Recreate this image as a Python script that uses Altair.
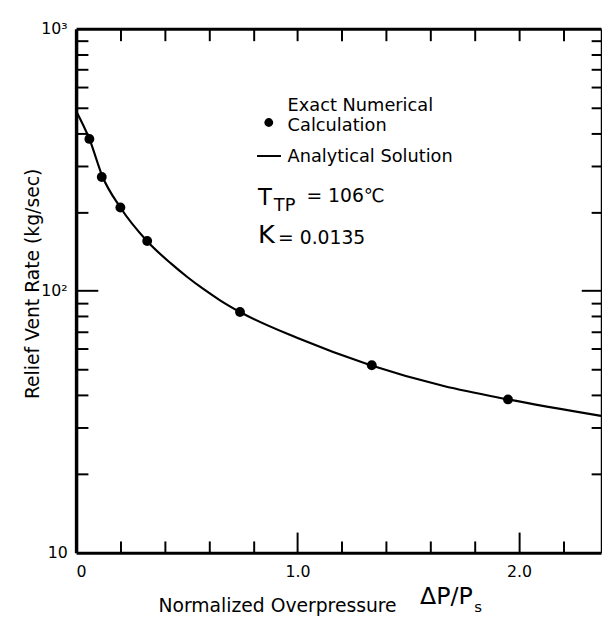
import altair as alt
import pandas as pd

# ---- data ----
curve_x = [0.0, 0.06, 0.12, 0.2, 0.32, 0.428, 0.502, 0.576, 0.65, 0.74, 1.0, 1.33, 1.66, 1.95, 2.37]
curve_y = [486, 380, 272, 208, 155, 127.2, 112.9, 101.4, 92.0, 83, 66, 52, 43.3, 38.5, 33.3]

exact_x = [0.06, 0.116, 0.2, 0.321, 0.74, 1.335, 1.95]
exact_y = [380, 272, 208, 155, 83, 52, 38.5]

x_label_vals = [0, 1, 2]
x_minor_vals = [0.2, 0.4, 0.6, 0.8, 1.2, 1.4, 1.6, 1.8, 2.2]
x_major_vals = [1, 2]
x_top_vals = [0.2, 0.4, 0.6, 0.8, 1.0, 1.2, 1.4, 1.6, 1.8, 2.0, 2.2]
y_label_vals = [10, 100, 1000]
y_minor_vals = [20, 30, 40, 50, 60, 70, 80, 90, 200, 300, 400, 500, 600, 700, 800, 900]
y_major_vals = [100]

curve = pd.DataFrame({"x": curve_x, "y": curve_y})
exact = pd.DataFrame({"x": exact_x, "y": exact_y})
one = pd.DataFrame({"k": [0]})

TXT = "DejaVu Sans"

xs = alt.Scale(domain=[0, 2.37], nice=False, zero=False)
ys = alt.Scale(type="log", domain=[10, 1000], nice=False)


def X(axis):
    return alt.X("x:Q", scale=xs, axis=axis)


def Y(axis):
    return alt.Y("y:Q", scale=ys, axis=axis)


# --- axes ---
ax_bottom_labels = alt.Axis(
    orient="bottom", values=x_label_vals, ticks=False, domain=False, grid=False,
    labelExpr="datum.value == 0 ? '0' : format(datum.value, '.1f')",
    labelFont=TXT, labelFontSize=16, labelPadding=11, labelFlush=True,
    labelBaseline="top",
    title="Normalized Overpressure", titleFont=TXT, titleFontSize=19,
    titleFontWeight="normal", titleX=83, titleY=60, titleAlign="left",
    titleBaseline="alphabetic", titleAnchor="start",
)
ax_left_labels = alt.Axis(
    orient="left", values=y_label_vals, ticks=False, domain=False, grid=False,
    labelExpr="datum.value == 1000 ? '10³' : datum.value == 100 ? '10²' : '10'",
    labelFont=TXT, labelFontSize=16, labelPadding=9, labelFlush=False,
    labelOverlap=False,
    title="Relief Vent Rate (kg/sec)", titleFont=TXT, titleFontSize=19,
    titleFontWeight="normal", titleX=-38, titleY=258, titleAngle=270,
    titleAlign="center", titleBaseline="alphabetic",
)
ax_bottom_minor = alt.Axis(
    orient="bottom", values=x_minor_vals, labels=False, grid=False,
    tickSize={"expr": "-12"}, domainWidth=3,
    title="s", titleFont=TXT, titleFontSize=15, titleFontWeight="normal",
    titleX=403, titleY=60, titleAlign="left", titleBaseline="alphabetic",
    titleAnchor="start",
)
ax_left_minor = alt.Axis(
    orient="left", values=y_minor_vals, labels=False, grid=False,
    tickSize={"expr": "-12"}, domainWidth=3.5, title=None,
)
ax_bottom_major = alt.Axis(
    orient="bottom", values=x_major_vals, labels=False, grid=False, domain=False,
    tickSize={"expr": "-21"},
    title="ΔP/P", titleFont=TXT, titleFontSize=24, titleFontWeight="normal",
    titleX=348, titleY=51, titleAlign="left", titleBaseline="alphabetic",
    titleAnchor="start",
)
ax_left_major = alt.Axis(
    orient="left", values=y_major_vals, labels=False, grid=False, domain=False,
    tickSize={"expr": "-22"}, title=None,
)
ax_top = alt.Axis(
    orient="top", values=x_top_vals, labels=False, grid=False,
    tickSize={"expr": "-12"}, domainWidth=3, title=None,
)
ax_right_minor = alt.Axis(
    orient="right", values=y_minor_vals, labels=False, grid=False,
    tickSize={"expr": "-10"}, domainWidth=1.5, title=None,
)
ax_right_major = alt.Axis(
    orient="right", values=y_major_vals, labels=False, grid=False, domain=False,
    tickSize={"expr": "-20"}, title=None,
)

line = alt.Chart(curve).mark_line(
    color="black", strokeWidth=2.2, interpolate="monotone"
).encode(x=X(ax_bottom_labels), y=Y(ax_left_labels))

points = alt.Chart(exact).mark_circle(
    color="black", size=100, opacity=1
).encode(x=X(ax_bottom_minor), y=Y(ax_left_minor))

ghost1 = alt.Chart(exact).mark_point(opacity=0).encode(
    x=X(ax_bottom_major), y=Y(ax_left_major))
ghost2 = alt.Chart(exact).mark_point(opacity=0).encode(
    x=X(ax_top), y=Y(ax_right_minor))
ghost3 = alt.Chart(exact).mark_point(opacity=0).encode(
    x=X(None), y=Y(ax_right_major))


def note(txt, xv, yv, size, font=TXT):
    return alt.Chart(one).mark_text(
        text=txt, font=font, fontSize=size, align="left", baseline="alphabetic",
        color="black"
    ).encode(
        x=alt.X(datum=xv, type="quantitative", scale=xs, axis=None),
        y=alt.Y(datum=yv, type="quantitative", scale=ys, axis=None),
    )


legend_dot = alt.Chart(one).mark_circle(color="black", size=80, opacity=1).encode(
    x=alt.X(datum=0.870, type="quantitative", scale=xs, axis=None),
    y=alt.Y(datum=439, type="quantitative", scale=ys, axis=None),
)
legend_line = alt.Chart(one).mark_rule(color="black", strokeWidth=2).encode(
    x=alt.X(datum=0.817, type="quantitative", scale=xs, axis=None),
    x2=alt.datum(0.925),
    y=alt.Y(datum=327, type="quantitative", scale=ys, axis=None),
)

notes = [
    note("Exact Numerical", 0.955, 485, 18),
    note("Calculation", 0.955, 409, 18),
    note("Analytical Solution", 0.955, 309, 18),
    note("T", 0.821, 213, 23),
    note("TP", 0.893, 202.5, 18),
    note("= 106℃", 1.040, 218, 19),
    note("K", 0.821, 151.6, 26),
    note("= 0.0135", 0.912, 150.8, 19),
]

chart = alt.layer(
    line, points, ghost1, ghost2, ghost3, legend_dot, legend_line, *notes
).resolve_axis(
    x="independent", y="independent"
).properties(
    width=532, height=531,
    padding={"left": 69, "top": 17, "right": 1, "bottom": 64},
    autosize=alt.AutoSizeParams(type="none"),
    background="white",
).configure_axis(
    domainColor="black", tickColor="black", labelColor="black",
    titleColor="black", tickWidth=2, grid=False,
).configure_view(stroke=None)

chart.save("out.html", embed_options={"renderer": "svg", "actions": False})
